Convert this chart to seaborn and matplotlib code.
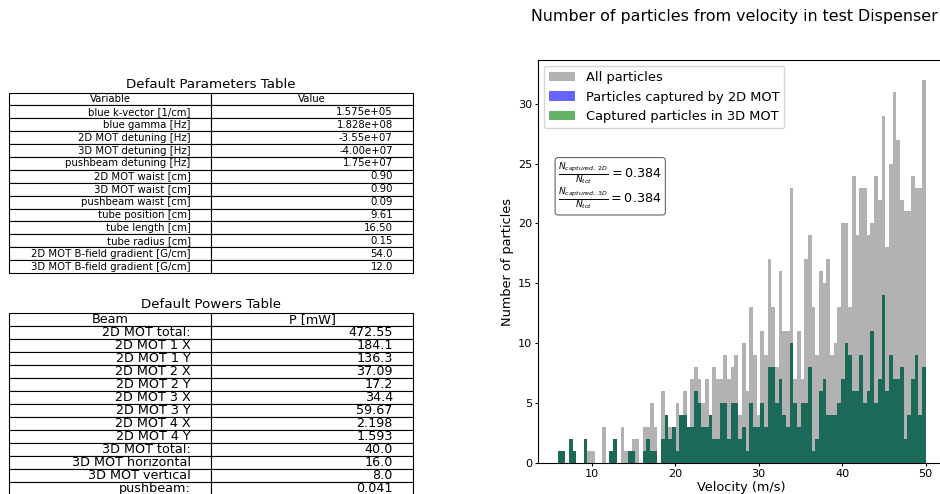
import numpy as np
import pandas as pd
import matplotlib
matplotlib.use("Agg")
import matplotlib.pyplot as plt
import seaborn as sns
from matplotlib.patches import Patch

# ---- parameters table -------------------------------------------------------
param_names = [
    "blue k-vector [1/cm]", "blue gamma [Hz]", "2D MOT detuning [Hz]",
    "3D MOT detuning [Hz]", "pushbeam detuning [Hz]", "2D MOT waist [cm]",
    "3D MOT waist [cm]", "pushbeam waist [cm]", "tube position [cm]",
    "tube length [cm]", "tube radius [cm]", "2D MOT B-field gradient [G/cm]",
    "3D MOT B-field gradient [G/cm]",
]
param_values = [
    "1.575e+05", "1.828e+08", "-3.55e+07", "-4.00e+07", "1.75e+07", "0.90",
    "0.90", "0.09", "9.61", "16.50", "0.15", "54.0", "12.0",
]

# ---- beam powers table ------------------------------------------------------
beam_names = [
    "2D MOT total:", "2D MOT 1 X", "2D MOT 1 Y", "2D MOT 2 X", "2D MOT 2 Y",
    "2D MOT 3 X", "2D MOT 3 Y", "2D MOT 4 X", "2D MOT 4 Y", "3D MOT total:",
    "3D MOT horizontal", "3D MOT vertical", "pushbeam:",
]
beam_powers = [
    "472.55", "184.1", "136.3", "37.09", "17.2", "34.4", "59.67", "2.198",
    "1.593", "40.0", "16.0", "8.0", "0.041",
]

# ---- velocity histogram: counts per bin -------------------------------------
v_min, v_max, n_bins = 5.95, 50.0, 100

all_particles = [
    1, 1, 0, 2, 1, 0, 0, 2, 1, 1, 0, 0, 3, 0, 1, 2, 0, 3, 1, 1,
    2, 2, 0, 3, 3, 5, 3, 0, 6, 4, 3, 3, 5, 4, 6, 3, 7, 8, 7, 5,
    7, 4, 8, 7, 7, 9, 7, 8, 9, 4, 10, 6, 13, 9, 4, 11, 9, 17, 13, 8,
    16, 11, 11, 23, 7, 11, 7, 17, 19, 13, 9, 16, 15, 17, 9, 10, 13, 20, 20, 13,
    24, 19, 23, 23, 19, 20, 24, 22, 29, 18, 25, 31, 27, 22, 21, 21, 24, 23, 23, 32,
]
captured_2d = [
    1, 1, 0, 2, 1, 0, 0, 2, 0, 0, 0, 0, 0, 0, 1, 2, 0, 0, 0, 1,
    1, 0, 0, 1, 2, 1, 1, 0, 2, 4, 2, 3, 1, 4, 4, 3, 3, 6, 5, 3,
    3, 4, 2, 2, 5, 5, 2, 5, 5, 2, 3, 1, 5, 3, 3, 5, 3, 8, 8, 5,
    7, 4, 3, 10, 5, 3, 5, 5, 8, 1, 2, 6, 7, 4, 4, 4, 5, 7, 10, 9,
    6, 6, 9, 5, 6, 11, 5, 7, 14, 6, 9, 7, 7, 8, 2, 4, 7, 9, 4, 8,
]
captured_3d = [
    1, 1, 0, 2, 1, 0, 0, 2, 0, 0, 0, 0, 0, 0, 1, 2, 0, 0, 0, 1,
    1, 0, 0, 1, 2, 1, 1, 0, 2, 4, 2, 3, 1, 4, 4, 3, 3, 6, 5, 3,
    3, 4, 2, 2, 5, 5, 2, 5, 5, 2, 3, 1, 5, 3, 3, 5, 3, 8, 8, 5,
    7, 4, 3, 10, 5, 3, 5, 5, 8, 1, 2, 6, 7, 4, 4, 4, 5, 7, 10, 9,
    6, 6, 9, 5, 6, 11, 5, 7, 14, 6, 9, 7, 7, 8, 2, 4, 7, 9, 4, 8,
]
ratio_2d = 0.384
ratio_3d = 0.384

series_labels = ["All particles", "Particles captured by 2D MOT",
                 "Captured particles in 3D MOT"]
series_colors = ["gray", "blue", "green"]

plt.rcParams["font.family"] = ["DejaVu Sans"]

W, H = 940, 494
fig = plt.figure(figsize=(W / 100, H / 100), dpi=100)


def px_axes(x0, y0, x1, y1):
    """Axes from pixel box (top-left origin)."""
    return fig.add_axes([x0 / W, 1 - y1 / H, (x1 - x0) / W, (y1 - y0) / H])


def draw_table(ax, names, values, header, title, fsize, title_size):
    ax.axis("off")
    rows = [[n, v] for n, v in zip(names, values)]
    tbl = ax.table(cellText=rows, colLabels=header, bbox=[0, 0, 1, 1])
    tbl.auto_set_font_size(False)
    tbl.set_fontsize(fsize)
    for (r, c), cell in tbl.get_celld().items():
        cell.set_edgecolor("black")
        cell.set_linewidth(0.8)
    ax.set_title(title, fontsize=title_size, pad=3.5)
    return tbl


ax_t1 = px_axes(9, 92.5, 413, 273)
draw_table(ax_t1, param_names, param_values, ["Variable", "Value"],
           "Default Parameters Table", 7.3, 9.6)

ax_t2 = px_axes(9, 312.7, 413, 494.7)
draw_table(ax_t2, beam_names, beam_powers, ["Beam", "P [mW]"],
           "Default Powers Table", 9.2, 9.6)

# ---- histogram ---------------------------------------------------------------
edges = np.linspace(v_min, v_max, n_bins + 1)
centers = 0.5 * (edges[:-1] + edges[1:])
df = pd.DataFrame({
    "velocity": centers,
    "all": all_particles,
    "cap2d": captured_2d,
    "cap3d": captured_3d,
})

ax = px_axes(538, 60, 944, 463)
for col, color in zip(["all", "cap2d", "cap3d"], series_colors):
    sns.histplot(data=df, x="velocity", weights=col, bins=n_bins,
                 binrange=(v_min, v_max), color=color, alpha=0.6,
                 edgecolor="none", linewidth=0, ax=ax)

ax.set_xlim(3.55, 52.2)
ax.set_ylim(0, 33.65)
ax.set_xticks([10, 20, 30, 40, 50])
ax.set_yticks([0, 5, 10, 15, 20, 25, 30])
ax.tick_params(labelsize=8.1, length=2.5, width=0.8, pad=1.8)
ax.set_xlabel("Velocity (m/s)", fontsize=9.3, labelpad=1.5)
ax.set_ylabel("Number of particles", fontsize=9.3, labelpad=3)
ax.set_title("Number of particles from velocity in test Dispenser",
             fontsize=11.4, pad=28, x=(734 - 538) / 406)
for s in ax.spines.values():
    s.set_linewidth(0.8)

handles = [Patch(facecolor=c, alpha=0.6) for c in series_colors]
ax.legend(handles, series_labels, loc="upper left", fontsize=9.4,
          borderaxespad=0.45)

ratio_text = (
    r"$\frac{N_{captured,\ 2D}}{N_{tot}} = %.3f$" % ratio_2d + "\n"
    + r"$\frac{N_{captured,\ 3D}}{N_{tot}} = %.3f$" % ratio_3d
)
ax.text(0.050, 0.750, ratio_text, transform=ax.transAxes, fontsize=9.2,
        va="top", ha="left", linespacing=0.9,
        bbox=dict(boxstyle="round,pad=0.25", facecolor="white",
                  edgecolor="0.4", linewidth=0.8))

fig.savefig("out.png", dpi=100)
